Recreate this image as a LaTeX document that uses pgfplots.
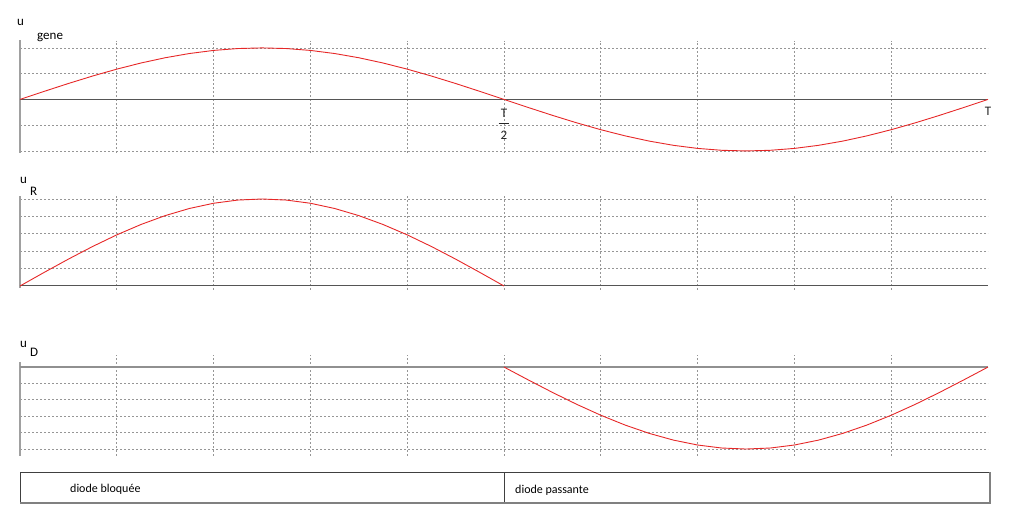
\documentclass[border=0pt]{standalone}
\usepackage{pgfplots}
\pgfplotsset{compat=1.18}
\usepackage{fontspec}
\setmainfont{Carlito}
\definecolor{gridc}{RGB}{150,150,150}
\definecolor{axc}{RGB}{85,85,85}
\definecolor{yaxc}{RGB}{160,160,160}
\definecolor{curve}{RGB}{230,40,40}
\pgfplotstableread{
x y
0 0
0.025 0.1564
0.05 0.3090
0.075 0.4540
0.1 0.5878
0.125 0.7071
0.15 0.8090
0.175 0.8910
0.2 0.9511
0.225 0.9877
0.25 1
0.275 0.9877
0.3 0.9511
0.325 0.8910
0.35 0.8090
0.375 0.7071
0.4 0.5878
0.425 0.4540
0.45 0.3090
0.475 0.1564
0.5 0
}\firsthalf
\pgfplotstableread{
x y
0.5 0
0.525 -0.1564
0.55 -0.3090
0.575 -0.4540
0.6 -0.5878
0.625 -0.7071
0.65 -0.8090
0.675 -0.8910
0.7 -0.9511
0.725 -0.9877
0.75 -1
0.775 -0.9877
0.8 -0.9511
0.825 -0.8910
0.85 -0.8090
0.875 -0.7071
0.9 -0.5878
0.925 -0.4540
0.95 -0.3090
0.975 -0.1564
1 0
}\secondhalf
\pgfplotsset{
  panel/.style={
    scale only axis, width=968pt, clip=false,
    xmin=0, xmax=1,
    axis line style={draw=none},
    major tick length=0pt,
    xtick={0.1,0.2,...,0.9},
    xticklabels={}, yticklabels={},
    grid=major,
    major grid style={gridc, dash pattern=on 2pt off 2pt, line width=0.7pt},
    anchor=south west,
  }
}
\begin{document}
\fontsize{13}{15}\selectfont
\begin{tikzpicture}[x=1pt,y=1pt]
\path[use as bounding box] (0,0) rectangle (1010,524);
% Panel 1 : u_gene
\begin{axis}[panel, at={(20pt,371pt)},
  ymin=-1.04, ymax=1.14, height=112.3pt,
  ytick={-1,-0.5,0.5,1}]
\addplot[yaxc, line width=1.6pt] coordinates {(0,-1.04) (0,1.16)};
\addplot[axc, line width=1pt] coordinates {(0,0) (1,0)};
\addplot[curve, line width=0.9pt] table {\firsthalf};
\addplot[curve, line width=0.9pt] table {\secondhalf};
\node[text=black!85] at (axis cs:0.5,-0.27) {T};
\draw[black!85, line width=0.8pt] (axis cs:0.4945,-0.47) -- (axis cs:0.5055,-0.47);
\node[text=black!85] at (axis cs:0.5,-0.70) {2};
\node[text=black!85] at (axis cs:1,-0.23) {T};
\end{axis}
\node[anchor=base west, inner sep=0pt] at (17,498) {u};
\node[anchor=base west, inner sep=0pt] at (37,484) {gene};
% Panel 2 : u_R
\begin{axis}[panel, at={(20pt,234pt)},
  ymin=-0.046, ymax=1.046, height=95pt,
  ytick={0.2,0.4,0.6,0.8,1}]
\addplot[yaxc, line width=1.6pt] coordinates {(0,-0.02) (0,1.03)};
\addplot[axc, line width=1pt] coordinates {(0,0) (1,0)};
\addplot[curve, line width=0.9pt] table {\firsthalf};
\end{axis}
\node[anchor=base west, inner sep=0pt] at (20,340) {u};
\node[anchor=base west, inner sep=0pt] at (30,328) {R};
% Panel 3 : u_D
\begin{axis}[panel, at={(20pt,68pt)},
  ymin=-1.085, ymax=0.146, height=100.9pt,
  ytick={-1,-0.8,-0.6,-0.4,-0.2}]
\addplot[yaxc, line width=1.6pt] coordinates {(0,-1.085) (0,0.06)};
\addplot[yaxc!90!black, line width=1.3pt] coordinates {(0,0) (1,0)};
\addplot[curve, line width=0.9pt] table {\secondhalf};
\end{axis}
\node[anchor=base west, inner sep=0pt] at (20,176) {u};
\node[anchor=base west, inner sep=0pt] at (30,167) {D};
% State box
\draw[black!75, line width=0.8pt] (20,21) rectangle (990,52);
\draw[black!75, line width=0.8pt] (504,21) -- (504,52);
\draw[gray, line width=1.2pt] (20,21) -- (990,21) -- (990,52);
\node[anchor=west, inner sep=0pt, font=\fontsize{12}{14}\selectfont] at (70,35) {diode bloquée};
\node[anchor=west, inner sep=0pt, font=\fontsize{12}{14}\selectfont] at (515,34) {diode passante};
\end{tikzpicture}
\end{document}
